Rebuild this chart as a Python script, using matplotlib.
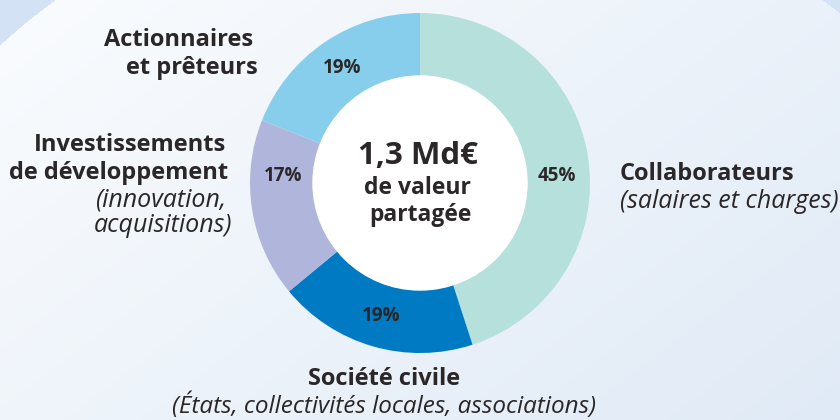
import numpy as np
import matplotlib
matplotlib.use("Agg")
import matplotlib.pyplot as plt

# données
parts = ["Collaborateurs", "Société civile", "Investissements", "Actionnaires"]
valeurs = [45, 19, 17, 19]
couleurs = ["#b5e0db", "#007ac2", "#b0b5dc", "#87ceed"]
total_txt = "1,3 Md€"

TXT = "#2b2627"
plt.rcParams['font.family'] = ['Open Sans', 'DejaVu Sans']

W, H = 840, 420
fig = plt.figure(figsize=(8.4, 4.2), dpi=100)
ax = fig.add_axes([0, 0, 1, 1])

def Y(py):
    # coordonnées pixel (haut = 0) -> données
    return H - py

# fond : dégradé + grand cercle
xx, yy = np.meshgrid(np.arange(W) + 0.5, np.arange(H) + 0.5)
t = 0.6 * xx / W + 0.4 * yy / H
c0 = np.array([250, 252, 254]) / 255
c1 = np.array([224, 234, 246]) / 255
img = c0 + t[..., None] * (c1 - c0)
dehors = (xx - 439) ** 2 + (yy - 525) ** 2 > 650 ** 2
img[dehors] = np.array([211, 227, 245]) / 255
ax.imshow(img, extent=(0, W, 0, H), origin='upper', aspect='auto', zorder=0)

# anneau
R = 170
r_in = 107
cx, cy = 420, Y(183)
wedges, _, pcts = ax.pie(valeurs, colors=couleurs, startangle=90, counterclock=False,
                         center=(cx, cy), radius=R, frame=True,
                         wedgeprops=dict(width=R - r_in, linewidth=0),
                         autopct=lambda p: f"{p:.0f}%", pctdistance=(R + r_in) / 2 / R,
                         textprops=dict(fontsize=13.5, fontweight='bold', color=TXT))
# les étiquettes des parts latérales sont ramenées à hauteur du centre
for w, p in zip(wedges, pcts):
    mid = np.deg2rad((w.theta1 + w.theta2) / 2)
    if abs(np.sin(mid)) < 0.5:
        p.set_y(cy + 7)
ax.set_xlim(0, W)
ax.set_ylim(0, H)
ax.axis('off')
ax.add_patch(plt.Circle((cx, cy), r_in, color='white', zorder=3))

# texte central
ax.text(418, Y(156), total_txt, ha='center', va='center', fontsize=22.5,
        fontweight='bold', color=TXT, zorder=4)
ax.text(417, Y(188), "de valeur", ha='center', va='center', fontsize=16.5,
        fontweight='bold', color=TXT, zorder=4)
ax.text(420, Y(215), "partagée", ha='center', va='center', fontsize=16.5,
        fontweight='bold', color=TXT, zorder=4)

# étiquettes
kb = dict(fontsize=17, color=TXT, zorder=4, fontweight='bold')
ki = dict(fontsize=18, color=TXT, zorder=4, style='italic', fontweight='medium')
ax.text(253, Y(40), "Actionnaires", ha='right', va='center', **kb)
ax.text(258, Y(68), "et prêteurs", ha='right', va='center', **kb)

ax.text(226, Y(145), "Investissements", ha='right', va='center', **kb)
ax.text(228, Y(173), "de développement", ha='right', va='center', **kb)
ax.text(226, Y(200), "(innovation,", ha='right', va='center', **ki)
ax.text(232, Y(226), "acquisitions)", ha='right', va='center', **ki)

ax.text(620, Y(174), "Collaborateurs", ha='left', va='center', **kb)
ax.text(620, Y(201), "(salaires et charges)", ha='left', va='center', **ki)

ax.text(384, Y(379), "Société civile", ha='center', va='center', **kb)
ax.text(384, Y(406), "(États, collectivités locales, associations)", ha='center', va='center',
        **dict(ki, fontsize=17.5))

fig.savefig("out.png", dpi=100)
